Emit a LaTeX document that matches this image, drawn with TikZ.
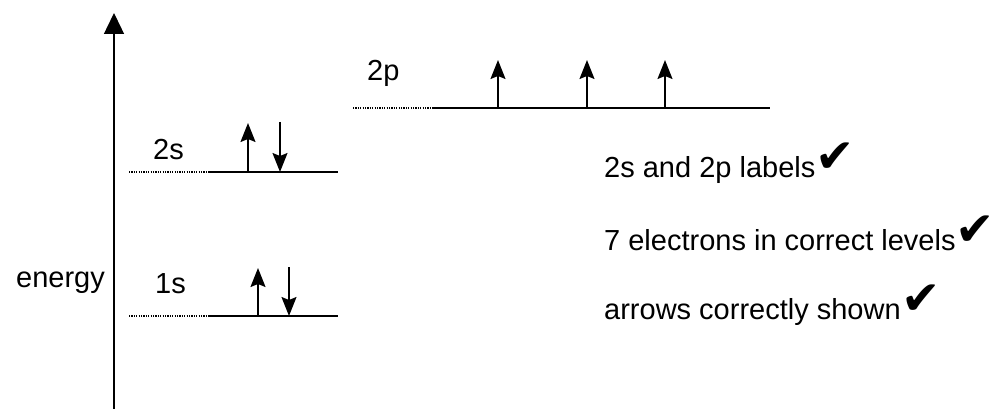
\documentclass[tikz,border=0pt]{standalone}
\usepackage{fontspec}
\setmainfont{Liberation Sans}
\newfontfamily\tickfont{DejaVu Sans}
\usetikzlibrary{arrows.meta}

\tikzset{
  level/.style={line width=1.8pt},
  guide/.style={line width=1.2pt, dash pattern=on 1.2pt off 1.2pt},
  spin/.style={line width=1.5pt, -{Stealth[length=19pt,width=15pt,inset=3pt]}},
  txt/.style={inner sep=0pt, anchor=base west, font=\fontsize{29}{34}\selectfont},
  tick/.style={inner sep=0pt, anchor=base west, font=\tickfont\fontsize{47}{47}\selectfont},
}

\begin{document}
\begin{tikzpicture}[x=1pt,y=-1pt]
  \useasboundingbox (0,0) rectangle (994,409);

  % energy axis
  \coordinate (ax0) at (114,409);
  \coordinate (ax1) at (114,13);
  \draw[line width=1.4pt, -{Triangle[length=21pt,width=20pt]}] (ax0) -- (ax1);
  \node[txt] (energy) at (16,287) {energy};

  % levels: dotted guide, then the level itself
  \foreach \n/\y/\a/\b/\c in {1s/316/129/208/338, 2s/172/129/208/338, 2p/108/353/433/770}{
    \coordinate (\n-a) at (\a,\y);
    \coordinate (\n-b) at (\b,\y);
    \coordinate (\n-c) at (\c,\y);
    \draw[guide] (\n-a) -- (\n-b);
    \draw[level] (\n-b) -- (\n-c);
  }
  \node[txt] (lab1s) at (155,293) {1s};
  \node[txt] (lab2s) at (153,160) {2s};
  \node[txt] (lab2p) at (367,81) {2p};

  % electrons
  \foreach \x/\y/\t in {258/316/268, 248/172/123, 498/108/60, 587/108/60, 665/108/60}
    \draw[spin] (\x,\y) -- (\x,\t);
  \foreach \x/\y/\t in {289/267/316, 280/122/172}
    \draw[spin] (\x,\y) -- (\x,\t);

  % mark scheme
  \node[txt] (m1) at (604,178) {2s and 2p labels};
  \node[txt] (m2) at (604,250) {7 electrons in correct levels};
  \node[txt] (m3) at (604,319) {arrows correctly shown};
  \foreach \m in {m1,m2,m3}
    \node[tick, yshift=5pt] at (\m.base east) {✔};
\end{tikzpicture}
\end{document}
